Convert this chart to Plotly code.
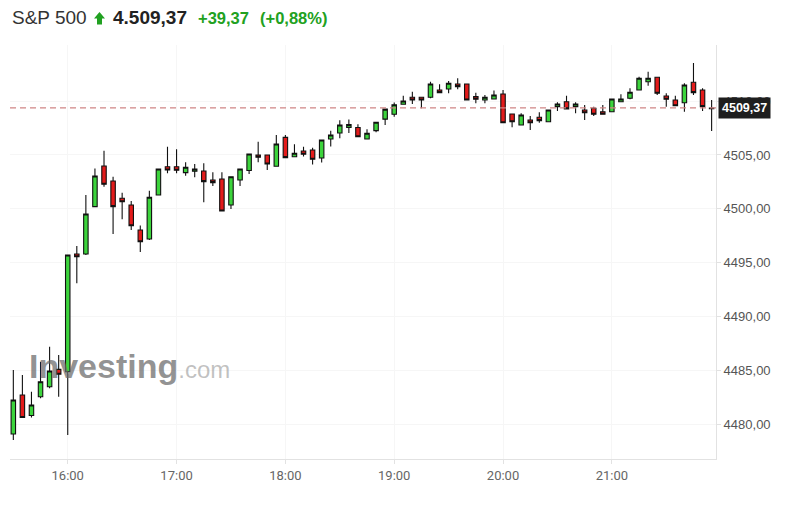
import pandas as pd
import plotly.graph_objects as go

# 5-minute bars, 15:30 -> 21:55
times = pd.date_range("2023-07-11 15:30", "2023-07-11 21:55", freq="5min")

opens = [4479.07, 4482.70, 4480.79, 4482.54, 4483.47, 4485.08, 4484.86, 4495.80, 4495.80, 4500.20,
         4503.98, 4502.58, 4500.98, 4500.35, 4498.03, 4497.19, 4501.28, 4503.91, 4503.91, 4503.36,
         4503.49, 4503.51, 4502.68, 4502.77, 4500.35, 4502.68, 4503.56, 4505.00, 4505.00, 4503.95,
         4506.64, 4504.84, 4505.37, 4505.46, 4504.72, 4506.49, 4507.04, 4507.56, 4507.56, 4506.49,
         4507.26, 4508.33, 4508.78, 4509.71, 4510.36, 4510.36, 4510.36, 4511.04, 4511.13, 4511.60,
         4511.60, 4510.42, 4510.11, 4510.20, 4510.67, 4508.81, 4507.79, 4508.25, 4508.50, 4508.09,
         4509.49, 4509.95, 4509.49, 4509.18, 4509.34, 4509.02, 4509.02, 4509.95, 4510.27, 4511.04,
         4511.81, 4512.22, 4510.48, 4510.11, 4509.86, 4511.76, 4511.04, 4509.29]
highs = [4485.02, 4484.55, 4483.00, 4485.79, 4487.18, 4486.41, 4495.75, 4496.54, 4501.28, 4503.75,
         4505.40, 4502.98, 4501.50, 4500.72, 4498.45, 4501.68, 4503.72, 4505.77, 4505.53, 4504.32,
         4504.16, 4504.23, 4503.39, 4503.39, 4503.00, 4503.72, 4505.11, 4506.24, 4505.02, 4506.86,
         4506.86, 4505.99, 4505.77, 4505.68, 4506.41, 4507.25, 4508.22, 4508.30, 4507.85, 4507.40,
         4508.05, 4509.28, 4509.88, 4510.51, 4510.88, 4510.37, 4511.81, 4511.57, 4511.88, 4512.13,
         4511.62, 4510.79, 4510.58, 4510.99, 4511.04, 4508.83, 4508.88, 4508.62, 4508.97, 4509.18,
         4509.90, 4510.51, 4509.90, 4509.65, 4509.49, 4509.65, 4510.20, 4510.64, 4511.20, 4512.28,
         4512.74, 4512.25, 4510.73, 4510.51, 4511.66, 4513.55, 4511.20, 4510.11]
lows = [4478.51, 4480.56, 4480.60, 4482.39, 4483.32, 4482.54, 4478.98, 4493.08, 4495.71, 4500.15,
        4502.05, 4497.66, 4499.02, 4498.03, 4495.99, 4497.10, 4501.24, 4503.30, 4503.30, 4503.08,
        4502.93, 4500.60, 4502.12, 4499.75, 4499.98, 4502.12, 4503.23, 4504.32, 4503.61, 4503.93,
        4504.72, 4504.81, 4504.86, 4504.12, 4504.30, 4505.79, 4506.55, 4507.04, 4506.64, 4506.47,
        4507.11, 4507.79, 4508.56, 4509.69, 4509.74, 4509.34, 4510.27, 4510.76, 4510.73, 4511.11,
        4510.08, 4509.80, 4509.80, 4510.18, 4508.00, 4507.57, 4507.76, 4507.32, 4508.00, 4508.07,
        4509.09, 4509.25, 4508.88, 4508.25, 4508.62, 4508.76, 4509.00, 4509.90, 4510.18, 4511.01,
        4511.44, 4510.58, 4509.49, 4509.55, 4509.02, 4510.58, 4509.09, 4507.23]
closes = [4482.23, 4480.60, 4481.77, 4483.93, 4484.93, 4484.62, 4495.71, 4495.55, 4499.52, 4503.05,
          4502.28, 4500.20, 4500.66, 4498.43, 4496.94, 4501.07, 4503.70, 4503.61, 4503.58, 4503.86,
          4503.70, 4502.52, 4502.43, 4499.80, 4502.98, 4503.70, 4505.09, 4504.79, 4504.16, 4506.02,
          4504.75, 4505.16, 4505.07, 4504.60, 4506.39, 4506.86, 4507.79, 4507.82, 4506.70, 4507.02,
          4508.04, 4509.26, 4509.67, 4510.02, 4510.11, 4510.11, 4511.60, 4510.79, 4511.66, 4511.35,
          4510.11, 4510.18, 4510.36, 4510.58, 4508.00, 4508.09, 4508.72, 4508.00, 4508.19, 4509.18,
          4509.74, 4509.28, 4509.74, 4508.93, 4508.78, 4508.78, 4510.20, 4510.20, 4510.83, 4512.13,
          4512.13, 4510.73, 4510.18, 4509.58, 4511.51, 4510.79, 4509.49, 4509.37]

y_ticks = [4480, 4485, 4490, 4495, 4500, 4505, 4510]

GREEN, RED, UP_TXT = "#3cd43c", "#e31b1b", "#21a121"
SANS = "Liberation Sans, Arial, sans-serif"

# plot box in page pixels (page has an 8px body margin)
PX0, PX1, PY0, PY1 = 10, 716, 45, 459


def px(x):
    return (x - PX0) / (PX1 - PX0)


def py(y):
    return (PY1 - y) / (PY1 - PY0)


fig = go.Figure(go.Candlestick(
    x=times, open=opens, high=highs, low=lows, close=closes,
    increasing=dict(fillcolor=GREEN, line=dict(color="#111", width=1.1)),
    decreasing=dict(fillcolor=RED, line=dict(color="#111", width=1.1)),
    hoverinfo="skip", showlegend=False))

last = closes[-1]
# last-price dashed marker line
fig.add_shape(type="line", xref="paper", x0=0, x1=1, yref="y", y0=last, y1=last,
              line=dict(color="#cf8585", width=1.2, dash="6px,4px"))

# price tag on the right axis
fig.add_annotation(xref="paper", x=1, xanchor="left", xshift=2, yref="y", y=last,
                   text="<b>" + f"{last:.2f}".replace(".", ",") + "</b>", showarrow=False,
                   bgcolor="#1e1e1e", font=dict(family=SANS, size=12.5, color="white"),
                   borderpad=3)

# header line
hdr_y = py(18)
fig.add_annotation(xref="paper", x=0, xanchor="left", yref="paper", y=hdr_y, yanchor="middle",
                   text="S&P 500", showarrow=False, font=dict(family=SANS, size=19, color="#333"))
# green up arrow icon
ax = [94, 99.5, 105, 102, 102, 97, 97]
ay = [18.5, 12, 18.5, 18.5, 24.5, 24.5, 18.5]
path = "M " + " L ".join(f"{px(a)},{py(b)}" for a, b in zip(ax, ay)) + " Z"
fig.add_shape(type="path", xref="paper", yref="paper", path=path,
              fillcolor=UP_TXT, line=dict(width=0))
fig.add_annotation(xref="paper", x=px(111), xanchor="left", yref="paper", y=hdr_y,
                   yanchor="middle", text="<b>4.509,37</b>", showarrow=False,
                   font=dict(family=SANS, size=19, color="#222"))
fig.add_annotation(xref="paper", x=px(196), xanchor="left", yref="paper", y=hdr_y,
                   yanchor="middle", text="<b>+39,37</b>", showarrow=False,
                   font=dict(family=SANS, size=16.5, color=UP_TXT))
fig.add_annotation(xref="paper", x=px(258), xanchor="left", yref="paper", y=hdr_y,
                   yanchor="middle", text="<b>(+0,88%)</b>", showarrow=False,
                   font=dict(family=SANS, size=16.5, color=UP_TXT))

# watermark
fig.add_annotation(xref="paper", x=px(27), xanchor="left", yref="paper",
                   y=py(366), yanchor="middle", showarrow=False,
                   text="<b>Investing</b><span style='font-size:24px;color:rgba(140,140,140,0.75)'>.com</span>",
                   font=dict(family=SANS, size=34, color="rgba(105,105,105,0.72)"))

fig.update_layout(
    width=787, height=508, margin=dict(l=PX0 - 8, r=787 - (PX1 - 8), t=PY0 - 8, b=508 - (PY1 - 8)),
    paper_bgcolor="white", plot_bgcolor="white", separators=",.",
    font=dict(family=SANS, color="#555"),
    xaxis=dict(type="date", rangeslider=dict(visible=False),
               range=["2023-07-11 15:28:10", "2023-07-11 21:57:25"],
               tick0="2023-07-11 16:00", dtick=3600000, tickformat="%H:%M",
               showgrid=True, gridcolor="#f6f6f6", zeroline=False,
               showline=True, linecolor="#e2e2e2", linewidth=1,
               ticks="outside", ticklen=4, tickcolor="#e2e2e2",
               tickfont=dict(family="Roboto", size=13, color="#666")),
    yaxis=dict(side="right", range=[4476.75, 4515.22], tickvals=y_ticks, tickformat=".2f",
               showgrid=True, gridcolor="#f6f6f6", zeroline=False,
               showline=True, linecolor="#e2e2e2", linewidth=1,
               ticks="outside", ticklen=4, tickcolor="#e2e2e2",
               tickfont=dict(family=SANS, size=13, color="#555")),
)

fig.write_html("out.html")
